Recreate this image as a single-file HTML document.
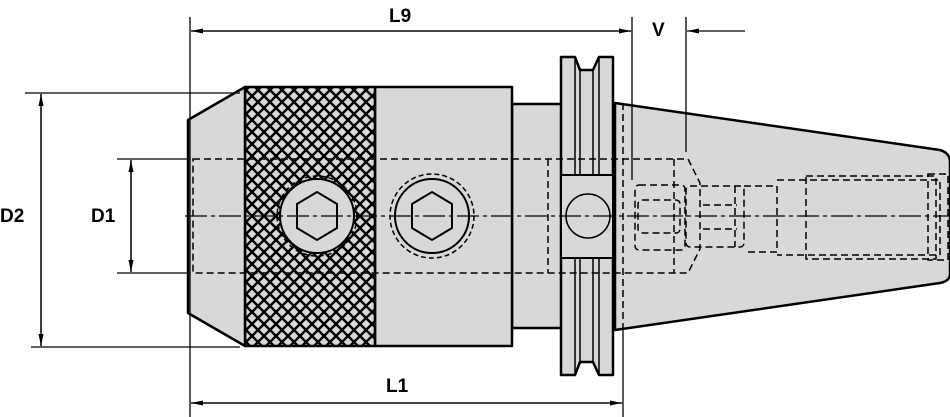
<!DOCTYPE html>
<html><head><style>html,body{margin:0;padding:0;background:#fff;width:950px;height:417px;overflow:hidden}</style></head>
<body>
<svg width="950" height="417" viewBox="0 0 950 417" xmlns="http://www.w3.org/2000/svg" font-family="Liberation Sans, sans-serif">
<defs>
<pattern id="kn" width="12" height="12" patternUnits="userSpaceOnUse">
<rect width="12" height="12" fill="#d8d8d8"/>
<path d="M-1,-1 L13,13 M-1,11 L1,13 M11,-1 L13,1" stroke="#000" stroke-width="2.4"/>
<path d="M13,-1 L-1,13 M1,-1 L-1,1 M13,11 L11,13" stroke="#000" stroke-width="2.4"/>
</pattern>
<marker id="ar" markerWidth="12" markerHeight="8" refX="12" refY="4" orient="auto" markerUnits="userSpaceOnUse"><path d="M0,1.5 L12,4 L0,6.5 Z" fill="#000"/></marker>
</defs>
<g stroke="#000" fill="#d8d8d8" stroke-width="2.5" stroke-linejoin="round">
<path d="M615,103 L940,150 Q950,153 950,162 L950,274 Q950,281 940,283 L615,330 Z"/>
<rect x="512" y="104" width="50" height="224"/>
<rect x="375" y="87" width="137" height="259"/>
<rect x="245" y="87" width="130" height="259" fill="url(#kn)"/>
<path d="M245,87 L188,120 L188,313 L245,346 Z"/>
<path d="M561,57 L575,57 L580,70 L593,70 L599,57 L613,57 L613,375 L599,375 L593,362 L580,362 L575,375 L561,375 Z"/>
</g>
<g stroke="#000" stroke-width="1.5" fill="none">
<line x1="575" y1="57" x2="575" y2="375"/><line x1="580" y1="70" x2="580" y2="362"/>
<line x1="593" y1="70" x2="593" y2="362"/><line x1="599" y1="57" x2="599" y2="375"/>
<rect x="561" y="175" width="52" height="83" fill="#d8d8d8" stroke-width="2"/>
<circle cx="588" cy="216" r="22"/>
<circle cx="317" cy="216" r="37" fill="#d8d8d8" stroke-width="2"/>
<circle cx="317" cy="216" r="40" stroke-dasharray="5,3"/>
<path d="M317,192 L337,204 L337,228 L317,240 L297,228 L297,204 Z" stroke-width="2"/>
<circle cx="432" cy="216" r="37" stroke-width="2"/>
<circle cx="432" cy="216" r="42" stroke-dasharray="5,3"/>
<path d="M432,192 L452,204 L452,228 L432,240 L412,228 L412,204 Z" stroke-width="2"/>
<g stroke-dasharray="7,4">
<path d="M193,159 L688,159 L700,183 L700,249 L688,273 L193,273 Z"/>
<line x1="548" y1="159" x2="548" y2="273"/>
<line x1="623" y1="103" x2="623" y2="330"/>
<line x1="674" y1="159" x2="674" y2="273"/>
<rect x="635" y="185" width="50" height="65" rx="4"/>
<rect x="638" y="200" width="42" height="33" rx="4"/>
<rect x="686" y="186" width="58" height="61" rx="4"/>
<line x1="703" y1="205" x2="737" y2="205"/><line x1="703" y1="229" x2="737" y2="229"/>
<line x1="735" y1="186" x2="735" y2="247"/>
<path d="M744,186 L777,186 L777,252 L744,252"/>
<path d="M777,180 L940,180 L940,255 L777,255"/>
<rect x="806" y="176" width="130" height="83"/>
<rect x="928" y="174" width="20" height="86"/>
</g>
<line x1="185" y1="216" x2="950" y2="216" stroke-width="1.3" stroke-dasharray="22,4,4,4"/>
</g>
<g stroke="#000" stroke-width="1.3" fill="none">
<line x1="190" y1="17" x2="190" y2="417"/>
<line x1="632" y1="17" x2="632" y2="180"/>
<line x1="686" y1="17" x2="686" y2="152"/>
<line x1="623" y1="330" x2="623" y2="417"/>
<line x1="191" y1="31" x2="631" y2="31" marker-end="url(#ar)"/>
<line x1="631" y1="31" x2="191" y2="31" marker-end="url(#ar)"/>
<line x1="745" y1="31" x2="687" y2="31" marker-end="url(#ar)"/>
<line x1="191" y1="403" x2="622" y2="403" marker-end="url(#ar)"/>
<line x1="622" y1="403" x2="191" y2="403" marker-end="url(#ar)"/>
<line x1="25" y1="93" x2="240" y2="93"/>
<line x1="31" y1="347" x2="240" y2="347"/>
<line x1="41" y1="94" x2="41" y2="346" marker-end="url(#ar)"/>
<line x1="41" y1="346" x2="41" y2="94" marker-end="url(#ar)"/>
<line x1="117" y1="159" x2="190" y2="159"/>
<line x1="117" y1="273" x2="190" y2="273"/>
<line x1="131" y1="160" x2="131" y2="272" marker-end="url(#ar)"/>
<line x1="131" y1="272" x2="131" y2="160" marker-end="url(#ar)"/>
</g>
<g font-size="19" font-weight="bold" fill="#000">
<text x="389" y="22">L9</text>
<text x="652" y="36">V</text>
<text x="386" y="392">L1</text>
<text x="0" y="222">D2</text>
<text x="91" y="222">D1</text>
</g>
</svg>
</body></html>
